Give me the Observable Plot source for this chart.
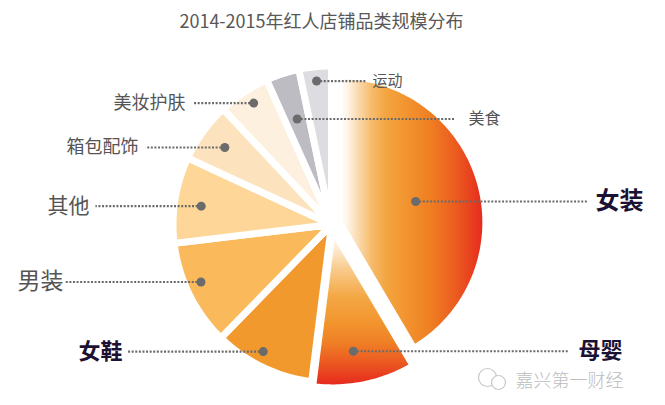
<!DOCTYPE html>
<html>
<head>
<meta charset="utf-8">
<script src="https://cdn.jsdelivr.net/npm/d3@7"></script>
<script src="https://cdn.jsdelivr.net/npm/@observablehq/plot@0.6"></script>
<style>
  html, body { margin: 0; padding: 0; background: #fff; }
  body { width: 665px; height: 405px; overflow: hidden; font-family: "Noto Sans CJK SC", "Noto Sans", sans-serif; }
  #title { height: 38px; line-height: 40px; width: 643px; text-align: center; font-size: 18px; color: #595757; white-space: nowrap; }
  #chart svg { display: block; }
</style>
</head>
<body>
<div id="title"></div>
<div id="chart"></div>
<script>
// ---------- data ----------
const titleText = "2014-2015年红人店铺品类规模分布";
const categories = ["女装", "母婴", "女鞋", "男装", "其他", "箱包配饰", "美妆护肤", "美食", "运动"];
const shares = [41.5, 10.5, 10.3, 10.8, 8.8, 6.1, 5.3, 3.4, 3.3]; // % share
const sourceText = "嘉兴第一财经";

// ---------- layout / style (not data) ----------
const W = 665, H = 367;
const cx = 331, cy = 186, R = 158.5, gapWidth = 7;
const sliceFill = ["url(#gNvzhuang)", "url(#gMuying)", "#F2992E", "#FAB95B", "#FDD698", "#FDE3BD", "#FEF0DE", "#BDBCC3", "#DDDDE1"];
const explode = [8, 5, 0, 0, 0, 0, 0, 0, 0];
const radiusK = [0.925, 1, 1, 1, 1, 1, 1, 1, 1];
const dotFrac = [0.50, 0.78, 0.91, 0.90, 0.83, 0.83, 0.91, 0.70, 0.91];
const dotNudgeDeg = [0, 2, 2.5, 2.5, -1, 0, 1, 0, 0];
const lineEndX = [587, 568, 126, 65, 95, 145, 192, 455, 365];
const textX = [595, 578, 122, 63, 89, 138, 185, 468, 372];
const fontSize = [24, 22, 22, 23, 21, 18, 18, 16, 15];
const bold = [true, true, true, false, false, false, false, false, false];

document.getElementById("title").textContent = titleText;

// ---------- derived geometry from values ----------
const arcs = d3.pie().sort(null).value(d => d)(shares);
const slices = arcs.map((a, i) => {
  const mid = (a.startAngle + a.endAngle) / 2;
  const ox = cx + explode[i] * Math.sin(mid);
  const oy = cy - explode[i] * Math.cos(mid);
  const r = R * radiusK[i];
  const n = Math.max(8, Math.ceil((a.endAngle - a.startAngle) / (Math.PI / 180)));
  const pts = [{x: ox, y: oy}];
  for (let k = 0; k <= n; k++) {
    const t = a.startAngle + (a.endAngle - a.startAngle) * k / n;
    pts.push({x: ox + r * Math.sin(t), y: oy - r * Math.cos(t)});
  }
  pts.push({x: ox, y: oy});
  const dm = mid + dotNudgeDeg[i] * Math.PI / 180;
  const dx = ox + dotFrac[i] * R * Math.sin(dm);
  const dy = oy - dotFrac[i] * R * Math.cos(dm);
  return {category: categories[i], share: shares[i], pts, dot: {x: dx, y: dy}, i};
});

const labels = slices.map(s => ({
  category: s.category,
  x: s.dot.x, y: s.dot.y,
  x2: lineEndX[s.i],
  tx: textX[s.i],
  anchor: textX[s.i] > s.dot.x ? "start" : "end",
  size: fontSize[s.i],
  bold: bold[s.i]
}));

const marks = [];
slices.forEach(s => {
  marks.push(Plot.line(s.pts, {
    x: "x", y: "y",
    fill: sliceFill[s.i],
    stroke: "#ffffff", strokeWidth: gapWidth, strokeLinejoin: "round",
    curve: "linear"
  }));
});
marks.push(Plot.link(labels, {
  x1: "x", y1: "y", x2: "x2", y2: "y",
  stroke: "#6b6b6b", strokeWidth: 2.2, strokeDasharray: "2,1.6"
}));
marks.push(Plot.dot(labels, {x: "x", y: "y", r: 4.5, fill: "#6b6b6b", stroke: "none"}));
["start", "end"].forEach(anchor => {
  marks.push(Plot.text(labels.filter(d => !d.bold && d.anchor === anchor), {
    x: "tx", y: "y", text: "category", fontSize: "size", textAnchor: anchor,
    fill: "#555555", fontWeight: 400
  }));
  marks.push(Plot.text(labels.filter(d => d.bold && d.anchor === anchor), {
    x: "tx", y: "y", text: "category", fontSize: "size", textAnchor: anchor,
    fill: "#1B1233", fontWeight: 700
  }));
});
marks.push(Plot.text([sourceText], {
  x: () => 515, y: () => 343, text: d => d, textAnchor: "start",
  fontSize: 18, fill: "#BDBDBD", fontWeight: 300
}));
marks.push(Plot.dot([0, 1], {
  x: d => [487, 498][d], y: d => [339, 344][d], r: d => [9, 7][d],
  stroke: "#C8C8C8", strokeWidth: 1.2, fill: "white"
}));

const svg = Plot.plot({
  width: W, height: H,
  margin: 0,
  x: {domain: [0, W], range: [0, W], axis: null},
  y: {domain: [0, H], range: [0, H], axis: null},
  r: {type: "identity"},
  style: {fontFamily: "'Noto Sans CJK SC', 'Noto Sans', sans-serif", background: "#fff", overflow: "visible"},
  marks
});

// gradients for the two highlighted slices
const defs = d3.select(svg).insert("defs", ":first-child");
const g1 = defs.append("linearGradient").attr("id", "gNvzhuang")
  .attr("x1", 0).attr("y1", 0).attr("x2", 1).attr("y2", 0);
[[0, "#FFFFFF"], [0.05, "#FFF6EA"], [0.12, "#FBDDB6"], [0.22, "#F6BC6C"], [0.32, "#F3A540"],
 [0.45, "#F29530"], [0.62, "#EF7F22"], [0.8, "#EB5A1F"], [1, "#E5251E"]]
  .forEach(([o, c]) => g1.append("stop").attr("offset", o).attr("stop-color", c));
const g2 = defs.append("linearGradient").attr("id", "gMuying")
  .attr("x1", 0).attr("y1", 0).attr("x2", 0).attr("y2", 1);
[[0, "#FFFFFF"], [0.12, "#FDEBD4"], [0.25, "#F8CB8C"], [0.42, "#F4A846"], [0.58, "#F2962F"],
 [0.72, "#EF7E25"], [0.86, "#EB5220"], [1, "#E5221E"]]
  .forEach(([o, c]) => g2.append("stop").attr("offset", o).attr("stop-color", c));

document.getElementById("chart").appendChild(svg);
</script>
</body>
</html>
